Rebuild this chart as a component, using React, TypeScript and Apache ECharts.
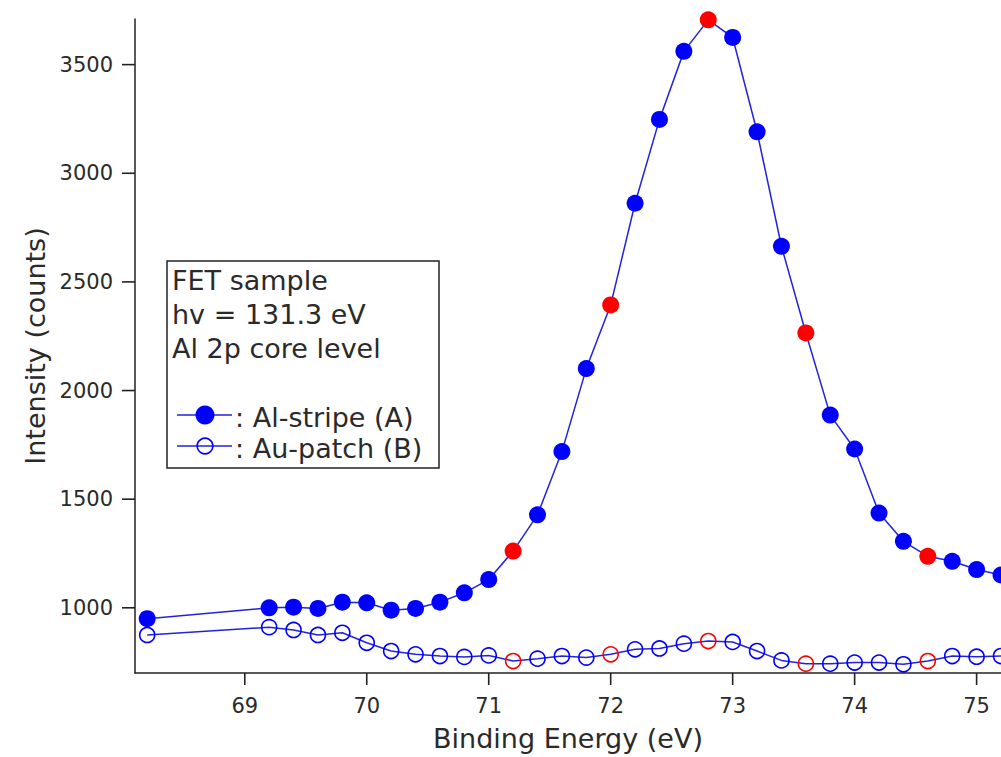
import React, { useEffect, useRef } from "react";
import * as echarts from "echarts";

const energies = [
  68.2, 69.2, 69.4, 69.6, 69.8, 70.0, 70.2, 70.4, 70.6, 70.8, 71.0, 71.2, 71.4, 71.6, 71.8, 72.0,
  72.2, 72.4, 72.6, 72.8, 73.0, 73.2, 73.4, 73.6, 73.8, 74.0, 74.2, 74.4, 74.6, 74.8, 75.0, 75.2,
];
const alStripe = [
  950, 1000, 1003, 997, 1026, 1023, 989, 997, 1026, 1069, 1130, 1261, 1428, 1719, 2101, 2394,
  2862, 3248, 3561, 3706, 3625, 3191, 2664, 2265, 1887, 1731, 1436, 1306, 1237, 1214, 1176, 1151,
];
const auPatch = [
  875, 911, 898, 875, 885, 839, 801, 786, 778, 774, 781, 755, 766, 778, 771, 786,
  809, 813, 835, 847, 843, 801, 758, 743, 743, 748, 748, 740, 755, 778, 775, 778,
];
const highlighted = [71.2, 72.0, 72.8, 73.6, 74.6];
const xRange = [68.1, 75.2];
const yRange = [700, 3710];
const xTicks = [69, 70, 71, 72, 73, 74, 75];
const yTicks = [1000, 1500, 2000, 2500, 3000, 3500];
const legendLines = ["FET sample", "hv = 131.3 eV", "Al 2p core level"];
const seriesNames = ["Al-stripe (A)", "Au-patch (B)"];

const BLUE = "#0000ff";
const LINE = "#2222dd";
const RED = "#ff0000";
const TXT = "#2a2a2a";
const AX = "#222";
const FONT = "DejaVu Sans";

const W = 1001;
const H = 757;

export default function App() {
  const ref = useRef<HTMLDivElement>(null);

  useEffect(() => {
    if (!ref.current) return;
    const chart = echarts.init(ref.current, null, { renderer: "svg" });

    const aData = energies.map((x, i) => ({
      value: [x, alStripe[i]],
      itemStyle: highlighted.includes(x) ? { color: RED } : { color: BLUE },
    }));
    const bData = energies.map((x, i) => ({
      value: [x, auPatch[i]],
      itemStyle: highlighted.includes(x)
        ? { color: "rgba(0,0,0,0)", borderColor: RED, borderWidth: 1.6 }
        : { color: "rgba(0,0,0,0)", borderColor: BLUE, borderWidth: 1.6 },
    }));

    const onList = (v: number, list: number[]) =>
      list.some((t) => Math.abs(t - v) < 1e-6) ? String(Math.round(v)) : "";

    const labelStyle = { fontFamily: FONT, fontSize: 21, color: TXT, margin: 22 };
    const nameStyle = { fontFamily: FONT, fontSize: 27, color: TXT };
    const axLine = { show: true, onZero: false, lineStyle: { color: AX, width: 1.5 } };

    // tick marks drawn through the cartesian coordinate system
    const tickData = [
      ...xTicks.map((t) => [t, yRange[0], 0]),
      ...yTicks.map((t) => [xRange[0], t, 1]),
    ];

    chart.setOption({
      animation: false,
      backgroundColor: "#ffffff",
      grid: { left: 135, top: 19, right: 0, bottom: 82, containLabel: false },
      xAxis: {
        type: "value",
        min: xRange[0],
        max: xRange[1],
        splitNumber: 5,
        axisLine: axLine,
        axisTick: { show: false },
        axisLabel: {
          ...labelStyle,
          showMinLabel: false,
          showMaxLabel: false,
          formatter: (v: number) => onList(v, xTicks),
        },
        splitLine: { show: false },
        name: "Binding Energy (eV)",
        nameLocation: "middle",
        nameGap: 52,
        nameTextStyle: nameStyle,
      },
      yAxis: {
        type: "value",
        min: yRange[0],
        max: yRange[1],
        splitNumber: 5,
        axisLine: axLine,
        axisTick: { show: false },
        axisLabel: {
          ...labelStyle,
          showMinLabel: false,
          showMaxLabel: false,
          formatter: (v: number) => onList(v, yTicks),
        },
        splitLine: { show: false },
        name: "Intensity (counts)",
        nameLocation: "middle",
        nameGap: 73,
        nameTextStyle: nameStyle,
      },
      series: [
        {
          name: "ticks",
          type: "custom",
          silent: true,
          clip: false,
          z: 5,
          data: tickData,
          renderItem: (params: any, api: any) => {
            const p = api.coord([api.value(0), api.value(1)]);
            const isY = api.value(2) === 1;
            return {
              type: "line",
              shape: isY
                ? { x1: p[0] - 13, y1: p[1], x2: p[0], y2: p[1] }
                : { x1: p[0], y1: p[1], x2: p[0], y2: p[1] + 12 },
              style: { stroke: AX, lineWidth: 1.6, fill: null },
            };
          },
        },
        {
          name: seriesNames[0],
          type: "line",
          data: aData,
          symbol: "circle",
          symbolSize: 17,
          clip: false,
          lineStyle: { color: LINE, width: 1.5 },
          z: 3,
        },
        {
          name: seriesNames[1],
          type: "line",
          data: bData,
          symbol: "circle",
          symbolSize: 15,
          clip: false,
          lineStyle: { color: LINE, width: 1.5 },
          z: 2,
        },
      ],
      graphic: [
        {
          type: "rect",
          z: 100,
          shape: { x: 167, y: 261, width: 272, height: 207 },
          style: { fill: "#ffffff", stroke: AX, lineWidth: 1.5 },
        },
        ...legendLines.map((t, i) => ({
          type: "text",
          z: 101,
          x: 172,
          y: 280 + i * 34,
          style: {
            text: t,
            fontFamily: FONT,
            fontSize: 27,
            fill: TXT,
            verticalAlign: "middle",
          },
        })),
        {
          type: "line",
          z: 101,
          shape: { x1: 177, y1: 415, x2: 232, y2: 415 },
          style: { stroke: LINE, lineWidth: 1.5 },
        },
        {
          type: "circle",
          z: 102,
          shape: { cx: 205, cy: 415, r: 9.5 },
          style: { fill: BLUE },
        },
        {
          type: "line",
          z: 101,
          shape: { x1: 177, y1: 446, x2: 232, y2: 446 },
          style: { stroke: LINE, lineWidth: 1.5 },
        },
        {
          type: "circle",
          z: 102,
          shape: { cx: 205, cy: 446, r: 7.8 },
          style: { fill: "none", stroke: BLUE, lineWidth: 1.6 },
        },
        ...seriesNames.map((t, i) => ({
          type: "text",
          z: 101,
          x: 235,
          y: 417 + i * 31,
          style: {
            text: ": " + t,
            fontFamily: FONT,
            fontSize: 27,
            fill: TXT,
            verticalAlign: "middle",
          },
        })),
      ],
    });

    return () => chart.dispose();
  }, []);

  return (
    <div
      ref={ref}
      style={{ position: "fixed", left: 0, top: 0, width: W, height: H, background: "#fff" }}
    />
  );
}
